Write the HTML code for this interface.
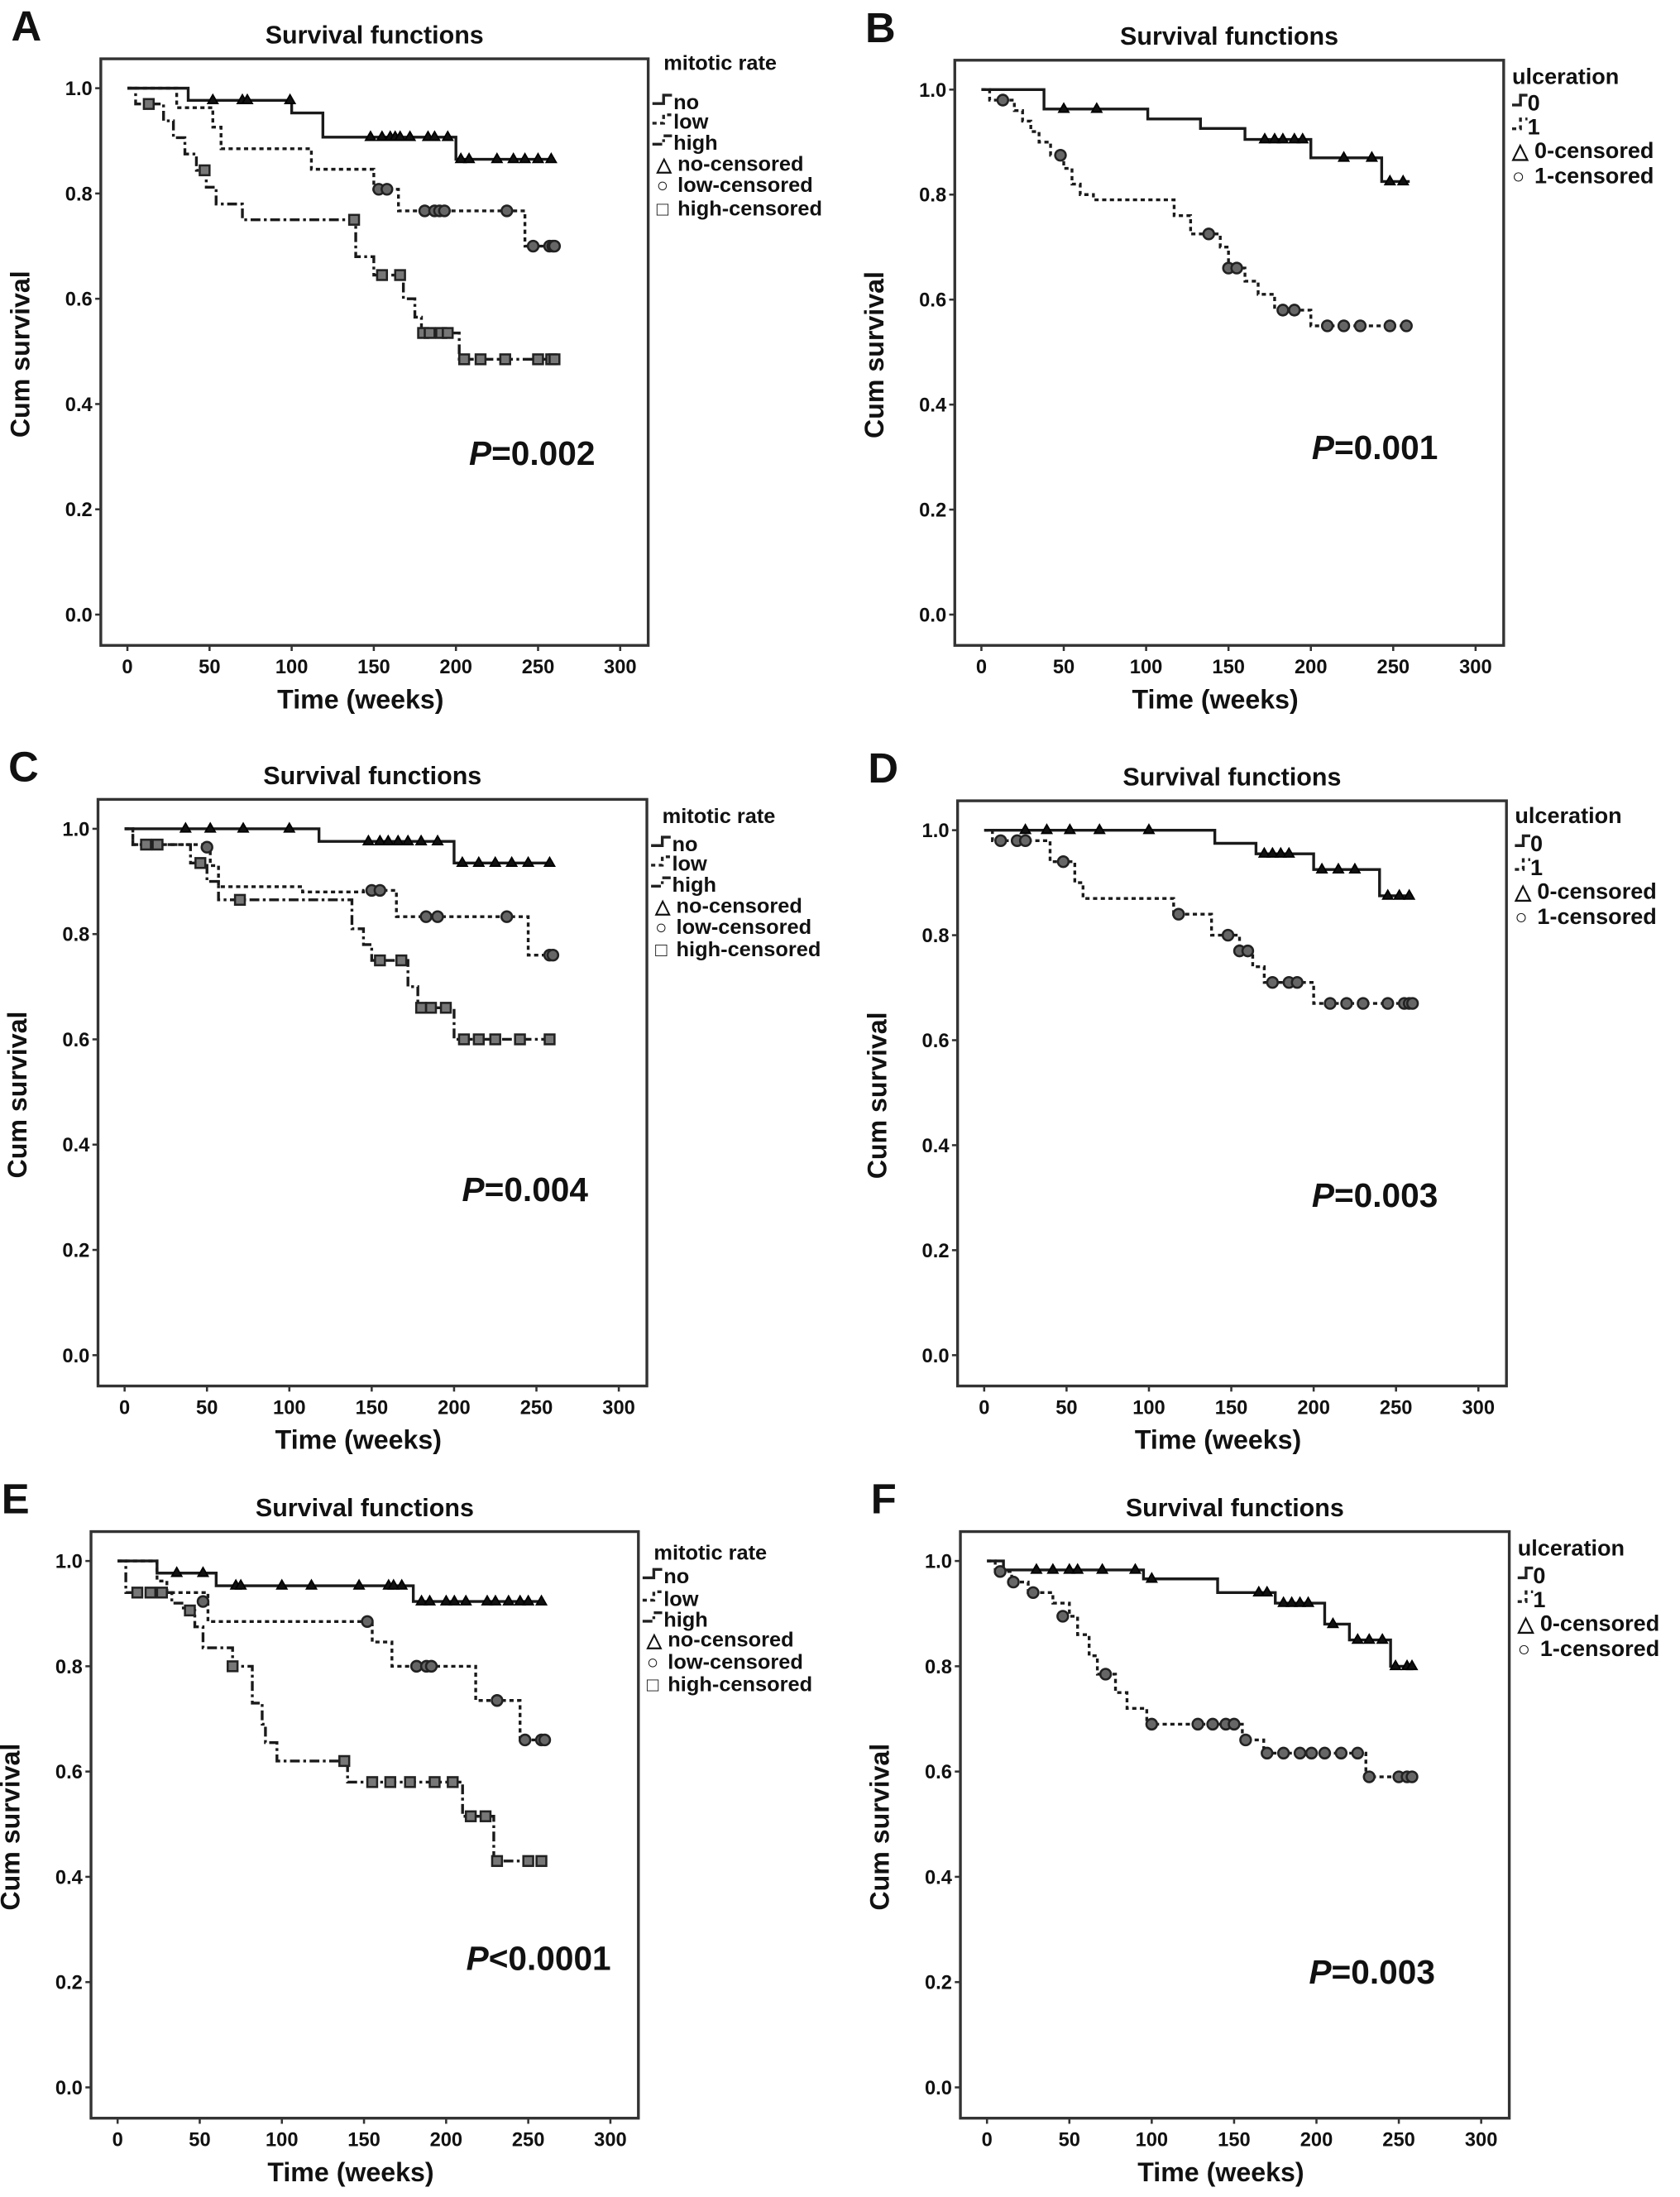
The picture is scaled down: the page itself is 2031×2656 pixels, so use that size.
<!DOCTYPE html>
<html><head><meta charset="utf-8"><style>
html,body{margin:0;padding:0;background:#fff;}
svg{display:block;}
text{font-family:"Liberation Sans",Arial,sans-serif;font-weight:bold;fill:#111;}
</style></head><body>
<svg id="fig" xmlns="http://www.w3.org/2000/svg" width="2031" height="2656" viewBox="0 0 1200 1569.3"></svg>
<script>
// ---- data (time in weeks, cumulative survival) ----
const xTicks = [0,50,100,150,200,250,300];
const yTicks = [0.0,0.2,0.4,0.6,0.8,1.0];
const mitoticLabels = ["no","low","high"];
const ulcerLabels = ["0","1"];

// Panel A
const aNoT=[0,37,100,119,200,260], aNoS=[1,0.977,0.953,0.907,0.865,0.865];
const aNoC=[[52,0.977],[70,0.977],[73,0.977],[99,0.977],[148,0.907],[155,0.907],[160,0.907],[163,0.907],[166,0.907],[172,0.907],[183,0.907],[187,0.907],[195,0.907],[203,0.865],[208,0.865],[225,0.865],[235,0.865],[242,0.865],[250,0.865],[258,0.865]];
const aLowT=[0,30,52,57,112,150,165,242,260], aLowS=[1,0.963,0.926,0.885,0.846,0.808,0.767,0.70,0.70];
const aLowC=[[153,0.808],[158,0.808],[181,0.767],[187,0.767],[190,0.767],[193,0.767],[231,0.767],[247,0.70],[257,0.70],[259,0.70],[260,0.70]];
const aHighT=[0,5,22,28,35,42,48,54,70,139,150,168,175,179,202,260], aHighS=[1,0.97,0.938,0.906,0.875,0.844,0.812,0.78,0.75,0.68,0.645,0.60,0.565,0.535,0.485,0.485];
const aHighC=[[13,0.97],[47,0.844],[138,0.75],[155,0.645],[166,0.645],[180,0.535],[184,0.535],[191,0.535],[195,0.535],[205,0.485],[215,0.485],[230,0.485],[250,0.485],[258,0.485],[260,0.485]];

// Panel B
const b0T=[0,38,101,133,160,200,243,260], b0S=[1,0.963,0.944,0.926,0.905,0.87,0.825,0.825];
const b0C=[[50,0.963],[70,0.963],[172,0.905],[178,0.905],[183,0.905],[190,0.905],[195,0.905],[220,0.87],[237,0.87],[248,0.825],[256,0.825]];
const b1T=[0,5,20,25,30,35,42,50,55,60,68,117,127,145,150,160,168,178,200,260], b1S=[1,0.98,0.96,0.94,0.92,0.90,0.875,0.85,0.82,0.80,0.79,0.76,0.725,0.70,0.66,0.635,0.61,0.58,0.55,0.55];
const b1C=[[13,0.98],[48,0.875],[138,0.725],[150,0.66],[155,0.66],[183,0.58],[190,0.58],[210,0.55],[220,0.55],[230,0.55],[248,0.55],[258,0.55]];

// Panel C
const cNoT=[0,118,200,260], cNoS=[1,0.976,0.935,0.935];
const cNoC=[[37,1],[52,1],[72,1],[100,1],[148,0.976],[155,0.976],[160,0.976],[166,0.976],[172,0.976],[180,0.976],[190,0.976],[205,0.935],[215,0.935],[225,0.935],[235,0.935],[245,0.935],[258,0.935]];
const cLowT=[0,5,52,57,108,145,165,245,260], cLowS=[1,0.97,0.93,0.89,0.88,0.883,0.833,0.76,0.76];
const cLowC=[[50,0.965],[150,0.883],[155,0.883],[183,0.833],[190,0.833],[232,0.833],[258,0.76],[260,0.76]];
const cHighT=[0,5,40,50,57,138,145,150,172,178,200,260], cHighS=[1,0.97,0.935,0.9,0.865,0.81,0.78,0.75,0.70,0.66,0.60,0.60];
const cHighC=[[13,0.97],[20,0.97],[46,0.935],[70,0.865],[155,0.75],[168,0.75],[180,0.66],[186,0.66],[195,0.66],[206,0.60],[215,0.60],[225,0.60],[240,0.60],[258,0.60]];

// Panel D
const d0T=[0,140,165,200,240,260], d0S=[1,0.975,0.955,0.925,0.875,0.875];
const d0C=[[25,1],[38,1],[52,1],[70,1],[100,1],[170,0.955],[175,0.955],[180,0.955],[185,0.955],[205,0.925],[215,0.925],[225,0.925],[245,0.875],[252,0.875],[258,0.875]];
const d1T=[0,5,40,55,60,115,138,155,163,170,200,260], d1S=[1,0.98,0.94,0.9,0.87,0.84,0.80,0.77,0.74,0.71,0.67,0.67];
const d1C=[[10,0.98],[20,0.98],[25,0.98],[48,0.94],[118,0.84],[148,0.80],[155,0.77],[160,0.77],[175,0.71],[185,0.71],[190,0.71],[210,0.67],[220,0.67],[230,0.67],[245,0.67],[255,0.67],[258,0.67],[260,0.67]];

// Panel E
const eNoT=[0,24,60,180,260], eNoS=[1,0.977,0.953,0.923,0.923];
const eNoC=[[36,0.977],[52,0.977],[72,0.953],[75,0.953],[100,0.953],[118,0.953],[147,0.953],[165,0.953],[168,0.953],[173,0.953],[185,0.923],[190,0.923],[200,0.923],[205,0.923],[212,0.923],[225,0.923],[230,0.923],[238,0.923],[245,0.923],[250,0.923],[258,0.923]];
const eLowT=[0,24,30,55,155,167,218,245,260], eLowS=[1,0.962,0.94,0.885,0.846,0.80,0.735,0.66,0.66];
const eLowC=[[52,0.923],[152,0.885],[182,0.80],[188,0.80],[191,0.80],[231,0.735],[248,0.66],[258,0.66],[260,0.66]];
const eHighT=[0,5,33,40,47,52,70,82,88,90,97,140,210,229,260], eHighS=[1,0.94,0.92,0.906,0.875,0.835,0.80,0.73,0.69,0.655,0.62,0.58,0.515,0.43,0.43];
const eHighC=[[12,0.94],[20,0.94],[27,0.94],[44,0.906],[70,0.80],[138,0.62],[155,0.58],[166,0.58],[178,0.58],[193,0.58],[204,0.58],[215,0.515],[224,0.515],[231,0.43],[250,0.43],[258,0.43]];

// Panel F
const f0T=[0,10,95,140,175,205,220,245,260], f0S=[1,0.983,0.966,0.94,0.92,0.88,0.85,0.80,0.80];
const f0C=[[30,0.983],[40,0.983],[50,0.983],[55,0.983],[70,0.983],[90,0.983],[100,0.966],[165,0.94],[170,0.94],[180,0.92],[185,0.92],[190,0.92],[195,0.92],[210,0.88],[225,0.85],[232,0.85],[240,0.85],[248,0.80],[255,0.80],[258,0.80]];
const f1T=[0,5,15,25,40,50,55,62,67,78,85,97,155,168,230,260], f1S=[1,0.98,0.96,0.94,0.92,0.895,0.86,0.82,0.785,0.75,0.72,0.69,0.66,0.635,0.59,0.59];
const f1C=[[8,0.98],[16,0.96],[28,0.94],[46,0.895],[72,0.785],[100,0.69],[128,0.69],[137,0.69],[145,0.69],[150,0.69],[157,0.66],[170,0.635],[180,0.635],[190,0.635],[197,0.635],[205,0.635],[215,0.635],[225,0.635],[232,0.59],[250,0.59],[255,0.59],[258,0.59]];

const pValues = ["=0.002","=0.001","=0.004","=0.003","<0.0001","=0.003"];

const NS="http://www.w3.org/2000/svg";
const svg=document.getElementById('fig');
function el(tag,attrs,parent,txt){const e=document.createElementNS(NS,tag);for(const k in attrs)e.setAttribute(k,attrs[k]);if(txt!==undefined)e.textContent=txt;(parent||svg).appendChild(e);return e;}

const panels=[
 {id:"A",x0:91,x3:443,y1:63,y0:439,kind:"m",legY:45,legDy:[28,42,57,72,87,104],p:[335,332],series:[[aNoT,aNoS,aNoC],[aLowT,aLowS,aLowC],[aHighT,aHighS,aHighC]]},
 {id:"B",x0:701,x3:1054,y1:64,y0:439,kind:"u",legY:55,legDy:[18,35,52,70],p:[937,328],series:[[b0T,b0S,b0C],[b1T,b1S,b1C]]},
 {id:"C",x0:89,x3:442,y1:592,y0:968,kind:"m",legY:583,legDy:[20,34,49,64,79,95],p:[330,858],series:[[cNoT,cNoS,cNoC],[cLowT,cLowS,cLowC],[cHighT,cHighS,cHighC]]},
 {id:"D",x0:703,x3:1056,y1:593,y0:968,kind:"u",legY:583,legDy:[19,36,53,71],p:[937,862],series:[[d0T,d0S,d0C],[d1T,d1S,d1C]]},
 {id:"E",x0:84,x3:436,y1:1115,y0:1491,kind:"m",legY:1109,legDy:[17,33,48,62,78,94],p:[333,1407],series:[[eNoT,eNoS,eNoC],[eLowT,eLowS,eLowC],[eHighT,eHighS,eHighC]]},
 {id:"F",x0:705,x3:1058,y1:1115,y0:1491,kind:"u",legY:1106,legDy:[19,36,53,71],p:[935,1417],series:[[f0T,f0S,f0C],[f1T,f1S,f1C]]}
];
const dashes=["", "3,2.5", "7,2.5,2,2.5"];
const markers=["tri","circ","sq"];

function marker(g,type,x,y){
  let m;
  if(type==="tri") m=el('path',{d:`M${x},${y-4}L${x+3.6},${y+2.3}L${x-3.6},${y+2.3}Z`,fill:'#111',stroke:'#000','stroke-width':1},g);
  else if(type==="circ") m=el('circle',{cx:x,cy:y,r:3.8,fill:'#666',stroke:'#222','stroke-width':1.5},g);
  else m=el('rect',{x:x-3.5,y:y-3.5,width:7,height:7,fill:'#777',stroke:'#222','stroke-width':1.5},g);
  return m;
}

panels.forEach((P,pi)=>{
  const g=el('g',{});
  
  
  const sx=t=>P.x0+(P.x3-P.x0)*t/300;
  const sy=v=>P.y0-(P.y0-P.y1)*v;
  const L=P.x0-19,R=P.x0+(P.x3-P.x0)*372/352,T=P.y1-21,B=P.y0+22;
  const lbl=el('text',{x:P.x0-83,y:P.y1-34,'font-size':30},g,P.id);
  
  
  const tt=el('text',{x:(L+R)/2,y:P.y1-32,'font-size':18,'text-anchor':'middle'},g,'Survival functions');
  
  
  const fr=el('rect',{x:L,y:T,width:R-L,height:B-T,fill:'none',stroke:'#333','stroke-width':2},g);
  
  
  xTicks.forEach(t=>{
    el('line',{x1:sx(t),x2:sx(t),y1:B,y2:B+4,stroke:'#333','stroke-width':1.5},g);
    const tx=el('text',{x:sx(t),y:B+20,'font-size':14,'text-anchor':'middle'},g,String(t));
    
    
  });
  yTicks.forEach(v=>{
    el('line',{x1:L-4,x2:L,y1:sy(v),y2:sy(v),stroke:'#333','stroke-width':1.5},g);
    const ty=el('text',{x:L-6,y:sy(v)+5,'font-size':14,'text-anchor':'end'},g,v.toFixed(1));
    
    
  });
  const xt=el('text',{x:(L+R)/2-10,y:B+45,'font-size':19,'text-anchor':'middle'},g,'Time (weeks)');
  
  
  const cy=(P.y1+P.y0)/2+2;
  const yt=el('text',{x:P.x0-70,y:cy,'font-size':19,'text-anchor':'middle',transform:`rotate(-90 ${P.x0-70} ${cy})`},g,'Cum survival');
  
  
  P.series.forEach((s,si)=>{
    const [T_,S_,C_]=s;
    let d=`M${sx(T_[0])},${sy(S_[0])}`;
    for(let i=1;i<T_.length;i++){d+=`H${sx(T_[i])}V${sy(S_[i])}`;}
    const path=el('path',{d,fill:'none',stroke:'#1a1a1a','stroke-width':2,'stroke-dasharray':dashes[si]},g);
    
    
    const mt=P.kind==="m"?markers[si]:(si===0?"tri":"circ");
    C_.forEach(c=>{
      const m=marker(g,mt,sx(c[0]),sy(c[1]));
      
      
    });
  });
  const pt=el('text',{x:P.p[0],y:P.p[1],'font-size':24},g);
  el('tspan',{'font-style':'italic'},pt,'P');
  el('tspan',{},pt,pValues[pi]);
  
  
  const lg=el('g',{},g);
  
  
  const lx=R+3;
  if(P.kind==="m"){
    el('text',{x:lx+8,y:P.legY+5,'font-size':15},lg,'mitotic rate');
    mitoticLabels.forEach((n,i)=>{
      const y=P.legY+P.legDy[i];
      el('path',{d:`M${lx},${y+1}H${lx+8}V${y-5}H${lx+14}`,fill:'none',stroke:'#222','stroke-width':2,'stroke-dasharray':dashes[i]},lg);
      const e=el('text',{x:lx+15,y:y+5,'font-size':15},lg,n);
      
      
    });
    ["no-censored","low-censored","high-censored"].forEach((n,i)=>{
      const y=P.legY+P.legDy[3+i];
      el('text',{x:lx+3,y:y+5,'font-size':14},lg,["\u25B3","\u25CB","\u25A1"][i]);
      const e=el('text',{x:lx+18,y:y+5,'font-size':15},lg,n);
      
      
    });
  } else {
    el('text',{x:lx+3,y:P.legY+5,'font-size':16},lg,'ulceration');
    ulcerLabels.forEach((n,i)=>{
      const y=P.legY+P.legDy[i];
      el('path',{d:`M${lx+3},${y+2}H${lx+9}V${y-5}H${lx+14}`,fill:'none',stroke:'#222','stroke-width':2,'stroke-dasharray':dashes[i]},lg);
      const e=el('text',{x:lx+14,y:y+6,'font-size':16},lg,n);
      
      
    });
    ["0-censored","1-censored"].forEach((n,i)=>{
      const y=P.legY+P.legDy[2+i];
      el('text',{x:lx+3,y:y+6,'font-size':15},lg,["\u25B3","\u25CB"][i]);
      const e=el('text',{x:lx+19,y:y+6,'font-size':16},lg,n);
      
      
    });
  }
});
</script>
</body></html>
